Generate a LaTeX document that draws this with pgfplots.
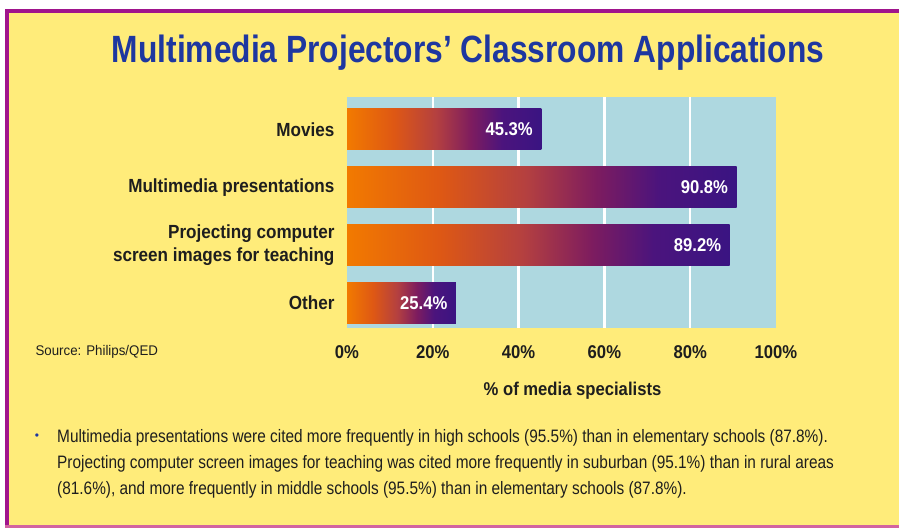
\documentclass[border=0pt]{standalone}
\usepackage{pgfplots}
\pgfplotsset{compat=1.18}
\usepackage{fontspec}
\setmainfont{Liberation Sans}
\newfontfamily\cond[FakeStretch=0.90]{Liberation Sans}
\newfontfamily\condT[FakeStretch=0.835]{Liberation Sans}
\newfontfamily\condN[FakeStretch=0.855]{Liberation Sans}
\newfontfamily\condS[FakeStretch=0.95]{Liberation Sans}
\definecolor{yellowbg}{RGB}{255,236,122}
\definecolor{plotbg}{RGB}{174,216,224}
\definecolor{titleblue}{RGB}{30,55,160}
\definecolor{purpborder}{RGB}{160,20,140}
\definecolor{pinkborder}{RGB}{210,100,160}
\definecolor{txt}{RGB}{30,30,30}
\definecolor{bA}{RGB}{242,122,0}
\definecolor{bB}{RGB}{222,88,20}
\definecolor{bC}{RGB}{180,64,64}
\definecolor{bD}{RGB}{125,28,95}
\definecolor{bE}{RGB}{75,20,125}
\definecolor{bF}{RGB}{58,20,130}
\pgfdeclarehorizontalshading{barshade}{100bp}{color(0bp)=(bA); color(25bp)=(bA); color(37bp)=(bB); color(48bp)=(bC); color(57bp)=(bD); color(65bp)=(bE); color(75bp)=(bF); color(100bp)=(bF)}
\begin{document}
\begin{tikzpicture}[x=1pt,y=1pt]
\fill[white] (0,0) rectangle (899,529);
\fill[yellowbg] (7,3) rectangle (899,518);
\fill[purpborder] (5,516) rectangle (899,520);
\fill[purpborder] (5,3) rectangle (9,520);
\fill[pinkborder] (5,1) rectangle (899,4);
\node[font=\condT\bfseries\fontsize{38}{42}\selectfont, text=titleblue] at (468,476) {Multimedia Projectors’ Classroom Applications};
\begin{axis}[
  at={(347pt,201pt)}, anchor=south west,
  scale only axis, width=429pt, height=231pt,
  xbar, bar width=41pt, bar shift=0pt,
  xmin=0, xmax=100, ymin=-0.43, ymax=3.56,
  ytick={0,1,2,3},
  yticklabels={Other,{Projecting computer\\screen images for teaching},Multimedia presentations,Movies},
  yticklabel style={align=right, font=\cond\bfseries\fontsize{19}{23}\selectfont, text=txt, xshift=-9pt},
  xtick={0,20,40,60,80,100},
  xticklabel={\pgfmathprintnumber{\tick}\%},
  /pgf/number format/assume math mode=true,
  xticklabel style={font=\cond\bfseries\fontsize{18.5}{20}\selectfont, text=txt, yshift=-14pt},
  minor xtick={20,40,60,80},
  xminorgrids, minor grid style={white, line width=2.5pt},
  axis background/.style={fill=plotbg},
  axis line style={draw=none}, major tick length=0pt, minor tick length=0pt,
  xlabel={\% of media specialists},
  xlabel style={font=\cond\bfseries\fontsize{18.5}{20}\selectfont, text=txt, yshift=-17pt, xshift=11pt},
  clip=false,
  point meta=x,
  nodes near coords={\pgfmathprintnumber[fixed,fixed zerofill,precision=1]{\pgfplotspointmeta}\%},
  nodes near coords style={text=white, font=\cond\bfseries\fontsize{18.5}{20}\selectfont, anchor=east, xshift=-5pt},
]
\addplot[draw=none, shade, shading=barshade] coordinates {(45.3,3)};
\addplot[draw=none, shade, shading=barshade] coordinates {(90.8,2)};
\addplot[draw=none, shade, shading=barshade] coordinates {(89.2,1)};
\addplot[draw=none, shade, shading=barshade] coordinates {(25.4,0)};
\end{axis}
\node[anchor=west, font=\condS\fontsize{14}{16}\selectfont, text=txt] at (32,177) {Source: Philips/QED};
\node[text=titleblue, font=\fontsize{12}{12}\selectfont] at (37,92) {\textbullet};
\node[anchor=base west, font=\condN\fontsize{18}{20}\selectfont, text=txt, inner sep=0pt] at (57,86) {Multimedia presentations were cited more frequently in high schools (95.5\%) than in elementary schools (87.8\%).};
\node[anchor=base west, font=\condN\fontsize{18}{20}\selectfont, text=txt, inner sep=0pt] at (57,60) {Projecting computer screen images for teaching was cited more frequently in suburban (95.1\%) than in rural areas};
\node[anchor=base west, font=\condN\fontsize{18}{20}\selectfont, text=txt, inner sep=0pt] at (57,34) {(81.6\%), and more frequently in middle schools (95.5\%) than in elementary schools (87.8\%).};
\end{tikzpicture}
\end{document}
